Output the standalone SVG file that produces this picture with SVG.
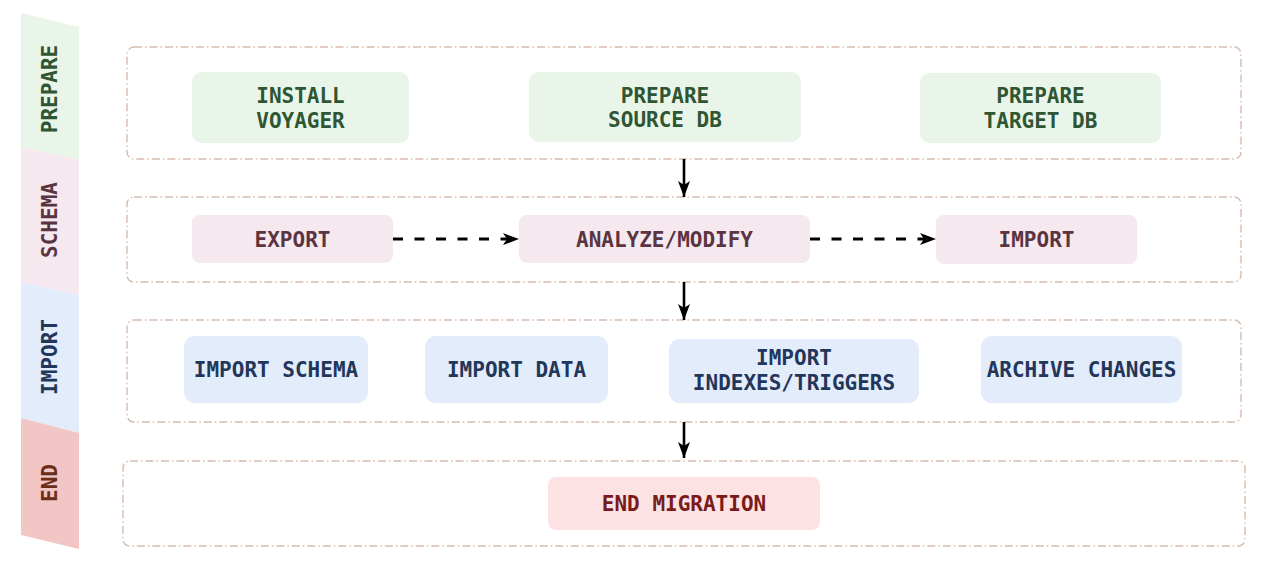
<svg xmlns="http://www.w3.org/2000/svg" width="1269" height="574" viewBox="0 0 1269 574">
<style>
.cont{fill:none;stroke:#d6bcad;stroke-width:1.4;stroke-dasharray:8 3 1.5 3}
.t{font-family:"DejaVu Sans Mono","Liberation Mono",monospace;font-weight:bold;font-size:21px;text-anchor:middle;dominant-baseline:central}
.lbl{font-family:"DejaVu Sans Mono","Liberation Mono",monospace;font-weight:bold;font-size:21px;text-anchor:middle;dominant-baseline:central}
.g rect{fill:#eaf5e9}.g text{fill:#2f5633}
.p rect{fill:#f5e9ef}.p text{fill:#5a3441}
.b rect{fill:#e2ecfa}.b text{fill:#22365a}
.r rect{fill:#fde2e4}.r text{fill:#7a1a1a}
.solid{stroke:#000;stroke-width:2.6;fill:none}
.dash{stroke:#000;stroke-width:2.8;fill:none;stroke-dasharray:10 11.5}
</style>
<defs>
<marker id="ah" viewBox="0 0 16 12" refX="16" refY="6" markerWidth="16" markerHeight="12" markerUnits="userSpaceOnUse" orient="auto">
<path d="M0,0 L16,6 L0,12 L4,6 z" fill="#000"/>
</marker>
</defs>
<g id="lanes">
<g id="lane-prepare"><polygon points="21,13 79,27 79,160 21,147" fill="#eaf5e9"/><text class="lbl" fill="#2f5633" transform="translate(50,89) rotate(-90)">PREPARE</text></g>
<g id="lane-schema"><polygon points="21,147 79,160 79,295 21,282" fill="#f5e9ef"/><text class="lbl" fill="#5a3441" transform="translate(50,220) rotate(-90)">SCHEMA</text></g>
<g id="lane-import"><polygon points="21,282 79,295 79,433 21,418" fill="#e2ecfa"/><text class="lbl" fill="#22365a" transform="translate(50,357) rotate(-90)">IMPORT</text></g>
<g id="lane-end"><polygon points="21,418 79,433 79,549 21,535" fill="#f3c6c6"/><text class="lbl" fill="#6b2e16" transform="translate(50,483) rotate(-90)">END</text></g>
</g>
<g id="containers">
<rect id="c-prepare" class="cont" x="127" y="47" width="1114" height="112" rx="7"/>
<rect id="c-schema" class="cont" x="127" y="197" width="1114" height="85" rx="7"/>
<rect id="c-import" class="cont" x="127" y="320" width="1114" height="102" rx="7"/>
<rect id="c-end" class="cont" x="123" y="461" width="1122" height="85" rx="7"/>
</g>
<g id="install-voyager" class="g"><rect x="192" y="72" width="217" height="71" rx="10"/><text class="t" x="300.5" y="96">INSTALL</text><text class="t" x="300.5" y="121">VOYAGER</text></g>
<g id="prepare-source" class="g"><rect x="529" y="72" width="272" height="70" rx="10"/><text class="t" x="665" y="96">PREPARE</text><text class="t" x="665" y="120">SOURCE DB</text></g>
<g id="prepare-target" class="g"><rect x="920" y="73" width="241" height="70" rx="10"/><text class="t" x="1040.5" y="96">PREPARE</text><text class="t" x="1040.5" y="121">TARGET DB</text></g>
<g id="export" class="p"><rect x="192" y="215" width="201" height="48" rx="8"/><text class="t" x="292.5" y="240">EXPORT</text></g>
<g id="analyze" class="p"><rect x="519" y="215" width="291" height="48" rx="8"/><text class="t" x="664.5" y="240">ANALYZE/MODIFY</text></g>
<g id="import-schema-node" class="p"><rect x="936" y="215" width="201" height="49" rx="8"/><text class="t" x="1036.5" y="240">IMPORT</text></g>
<g id="import-schema" class="b"><rect x="184" y="336" width="184" height="67" rx="11"/><text class="t" x="276" y="370">IMPORT SCHEMA</text></g>
<g id="import-data" class="b"><rect x="425" y="336" width="183" height="67" rx="11"/><text class="t" x="516.5" y="370">IMPORT DATA</text></g>
<g id="import-indexes" class="b"><rect x="669" y="339" width="250" height="64" rx="11"/><text class="t" x="794" y="358">IMPORT</text><text class="t" x="794" y="383">INDEXES/TRIGGERS</text></g>
<g id="archive" class="b"><rect x="981" y="336" width="201" height="67" rx="11"/><text class="t" x="1081.5" y="370">ARCHIVE CHANGES</text></g>
<g id="end-migration" class="r"><rect x="548" y="477" width="272" height="53" rx="8"/><text class="t" x="684" y="504">END MIGRATION</text></g>
<g id="connectors">
<line class="solid" x1="684" y1="159" x2="684" y2="197" marker-end="url(#ah)"/>
<line class="solid" x1="684" y1="282" x2="684" y2="320" marker-end="url(#ah)"/>
<line class="solid" x1="684" y1="422" x2="684" y2="458" marker-end="url(#ah)"/>
<line class="dash" x1="393" y1="239" x2="519" y2="239" marker-end="url(#ah)"/>
<line class="dash" x1="810" y1="239" x2="936" y2="239" marker-end="url(#ah)"/>
</g>
</svg>
